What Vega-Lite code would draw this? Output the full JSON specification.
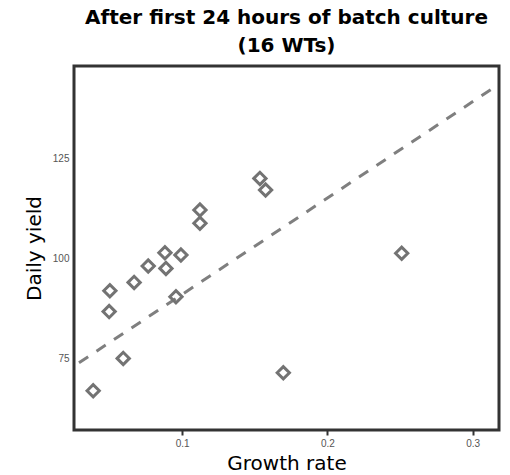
{
  "$schema": "https://vega.github.io/schema/vega-lite/v6.json",
  "autosize": "none",
  "width": 425,
  "height": 364,
  "padding": {"left": 74, "top": 66, "right": 11, "bottom": 45},
  "background": "white",
  "title": {
    "text": ["After first 24 hours of batch culture", "(16 WTs)"],
    "font": "DejaVu Sans",
    "fontSize": 20,
    "fontWeight": "bold",
    "color": "#000000",
    "lineHeight": 28,
    "anchor": "middle",
    "offset": 10
  },
  "datasets": {
    "strains": [
      {"growth_rate": 0.0387, "daily_yield": 66.8},
      {"growth_rate": 0.0594, "daily_yield": 74.9},
      {"growth_rate": 0.0497, "daily_yield": 86.6},
      {"growth_rate": 0.0502, "daily_yield": 91.8},
      {"growth_rate": 0.0669, "daily_yield": 93.9},
      {"growth_rate": 0.0957, "daily_yield": 90.3},
      {"growth_rate": 0.0766, "daily_yield": 98.0},
      {"growth_rate": 0.0881, "daily_yield": 101.3},
      {"growth_rate": 0.0888, "daily_yield": 97.4},
      {"growth_rate": 0.0991, "daily_yield": 100.75},
      {"growth_rate": 0.1122, "daily_yield": 108.7},
      {"growth_rate": 0.1122, "daily_yield": 112.0},
      {"growth_rate": 0.1535, "daily_yield": 119.9},
      {"growth_rate": 0.1574, "daily_yield": 117.0},
      {"growth_rate": 0.2511, "daily_yield": 101.2},
      {"growth_rate": 0.1696, "daily_yield": 71.3}
    ],
    "fit": [
      {"growth_rate": 0.0255, "daily_yield": 72.97},
      {"growth_rate": 0.3181, "daily_yield": 143.45}
    ]
  },
  "layer": [
    {
      "data": {"name": "fit"},
      "mark": {
        "type": "line",
        "color": "#7f7f7f",
        "strokeWidth": 3,
        "strokeDash": [11, 10],
        "strokeDashOffset": -6
      },
      "encoding": {
        "x": {"field": "growth_rate", "type": "quantitative"},
        "y": {"field": "daily_yield", "type": "quantitative"}
      }
    },
    {
      "data": {"name": "strains"},
      "mark": {
        "type": "point",
        "shape": "diamond",
        "filled": false,
        "size": 150,
        "strokeWidth": 3,
        "color": "#737373",
        "opacity": 1
      },
      "encoding": {
        "x": {
          "field": "growth_rate",
          "type": "quantitative",
          "scale": {"domain": [0.0255, 0.3181], "nice": false, "zero": false},
          "axis": {
            "title": "Growth rate",
            "values": [0.1, 0.2, 0.3],
            "format": ".1f",
            "grid": false,
            "domain": false,
            "ticks": true,
            "tickSize": 5,
            "tickWidth": 2,
            "tickColor": "#333333",
            "labelPadding": 3,
            "labelFont": "Liberation Sans",
            "labelFontSize": 10,
            "labelColor": "#555555",
            "titleFont": "DejaVu Sans",
            "titleFontSize": 20,
            "titleFontWeight": "normal",
            "titleColor": "#000000",
            "titlePadding": 5
          }
        },
        "y": {
          "field": "daily_yield",
          "type": "quantitative",
          "scale": {"domain": [57, 148], "nice": false, "zero": false},
          "axis": {
            "title": "Daily yield",
            "values": [75, 100, 125],
            "grid": false,
            "domain": false,
            "ticks": false,
            "labelPadding": 5,
            "labelFont": "Liberation Sans",
            "labelFontSize": 10,
            "labelColor": "#555555",
            "titleFont": "DejaVu Sans",
            "titleFontSize": 20,
            "titleFontWeight": "normal",
            "titleColor": "#000000",
            "titlePadding": 8
          }
        }
      }
    }
  ],
  "config": {
    "view": {"stroke": "#333333", "strokeWidth": 3}
  }
}
